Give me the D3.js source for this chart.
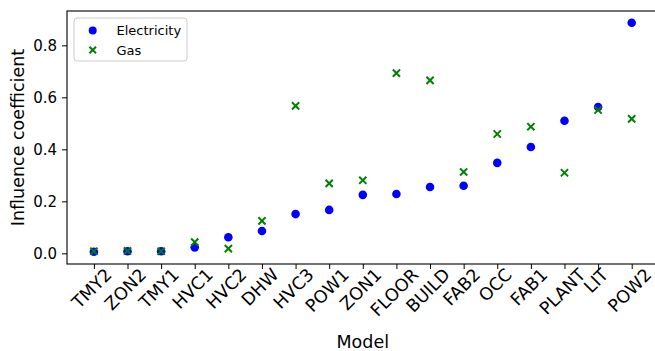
<!DOCTYPE html>
<html>
<head>
<meta charset="utf-8">
<script src="https://cdn.jsdelivr.net/npm/d3@7"></script>
<style>
  body { margin: 0; background: #fff; }
  svg { display: block; font-family: "DejaVu Sans", sans-serif; }
</style>
</head>
<body>
<div id="chart"></div>
<script>
// categories, sorted by electricity influence
const models = ['TMY2', 'ZON2', 'TMY1', 'HVC1', 'HVC2', 'DHW', 'HVC3', 'POW1', 'ZON1',
                'FLOOR', 'BUILD', 'FAB2', 'OCC', 'FAB1', 'PLANT', 'LIT', 'POW2'];
const electricity = [0.006, 0.008, 0.008, 0.023, 0.062, 0.086, 0.151, 0.167, 0.225,
                     0.228, 0.255, 0.260, 0.348, 0.409, 0.510, 0.563, 0.887];
const gas = [0.008, 0.009, 0.008, 0.043, 0.018, 0.125, 0.567, 0.269, 0.281,
             0.693, 0.665, 0.313, 0.459, 0.487, 0.310, 0.551, 0.517];
const yTicks = [0.0, 0.2, 0.4, 0.6, 0.8];

const width = 655, height = 351;
const box = { left: 67, right: 658.6, top: 11, bottom: 264 };

const svg = d3.select('#chart').append('svg')
    .attr('width', width)
    .attr('height', height);

const x = d3.scaleLinear()
    .domain([-0.8, models.length - 1 + 0.8])
    .range([box.left, box.right]);

const y = d3.scaleLinear()
    .domain([-0.041, 0.932])
    .range([box.bottom, box.top]);

// frame
svg.append('rect')
    .attr('x', box.left)
    .attr('y', box.top)
    .attr('width', box.right - box.left)
    .attr('height', box.bottom - box.top)
    .attr('fill', 'none')
    .attr('stroke', '#000')
    .attr('stroke-width', 1.1);

// y axis
const yAxis = svg.append('g')
    .attr('transform', `translate(${box.left},0)`)
    .call(d3.axisLeft(y).tickValues(yTicks).tickFormat(d3.format('.1f')).tickSize(5).tickPadding(5));
yAxis.select('.domain').remove();
yAxis.selectAll('text').attr('font-size', 15).attr('fill', '#000').attr('font-family', 'DejaVu Sans');

// x axis
const xAxis = svg.append('g')
    .attr('transform', `translate(0,${box.bottom})`)
    .call(d3.axisBottom(x).tickValues(d3.range(models.length)).tickFormat(i => models[i]).tickSize(5));
xAxis.select('.domain').remove();

// rotate labels 45deg, centred under the tick like matplotlib
xAxis.selectAll('.tick text')
    .attr('font-size', 17.5)
    .attr('font-family', 'DejaVu Sans')
    .attr('fill', '#000')
    .attr('text-anchor', 'middle')
    .attr('dominant-baseline', 'central')
    .attr('dy', null)
    .attr('y', null)
    .each(function() {
        const w = this.getComputedTextLength();
        const h = 13;
        const half = (w + h) / (2 * Math.SQRT2);
        d3.select(this).attr('transform', `translate(-2.5,${3 + half}) rotate(-45)`);
    });

// axis titles
svg.append('text')
    .attr('x', (box.left + box.right) / 2)
    .attr('y', 348)
    .attr('text-anchor', 'middle')
    .attr('font-size', 17.5)
    .text('Model');

svg.append('text')
    .attr('transform', `translate(24,${(box.top + box.bottom) / 2}) rotate(-90)`)
    .attr('text-anchor', 'middle')
    .attr('font-size', 17.5)
    .text('Influence coefficient');

// points
svg.append('g').selectAll('circle')
    .data(electricity)
    .enter().append('circle')
    .attr('cx', (d, i) => x(i))
    .attr('cy', d => y(d))
    .attr('r', 4.3)
    .attr('fill', '#0000ff');

const cross = 3.6;
const crossPath = `M${-cross},${-cross}L${cross},${cross}M${-cross},${cross}L${cross},${-cross}`;
svg.append('g').selectAll('path')
    .data(gas)
    .enter().append('path')
    .attr('transform', (d, i) => `translate(${x(i)},${y(d)})`)
    .attr('d', crossPath)
    .attr('stroke', '#008000')
    .attr('stroke-width', 2)
    .attr('fill', 'none');

// legend
const legend = svg.append('g');
legend.append('rect')
    .attr('x', 74).attr('y', 18)
    .attr('width', 113).attr('height', 43)
    .attr('rx', 3)
    .attr('fill', '#fff')
    .attr('fill-opacity', 0.8)
    .attr('stroke', '#ccc');
legend.append('circle')
    .attr('cx', 92.7).attr('cy', 30.5).attr('r', 4)
    .attr('fill', '#0000ff');
legend.append('path')
    .attr('transform', 'translate(92.7,50)')
    .attr('d', `M-3.3,-3.3L3.3,3.3M-3.3,3.3L3.3,-3.3`)
    .attr('stroke', '#008000')
    .attr('stroke-width', 2);
legend.selectAll('text')
    .data(['Electricity', 'Gas'])
    .enter().append('text')
    .attr('x', 116.5)
    .attr('y', (d, i) => 30.5 + i * 19.5)
    .attr('dominant-baseline', 'central')
    .attr('font-size', 13)
    .text(d => d);
</script>
</body>
</html>
